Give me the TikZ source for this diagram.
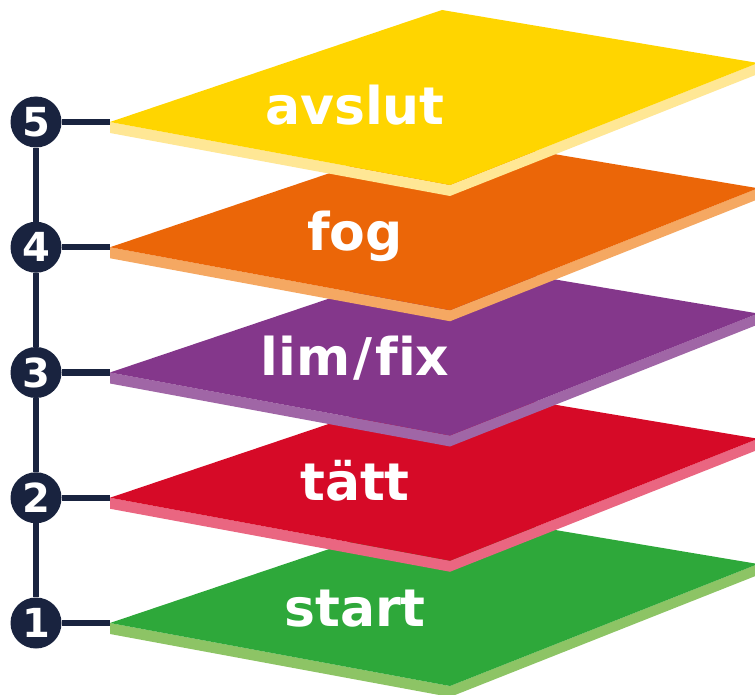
\documentclass[tikz,border=0pt]{standalone}
\usepackage{fontspec}
\setmainfont{DejaVu Sans}
\usetikzlibrary{positioning,calc}
\definecolor{navy}{HTML}{19233F}
\definecolor{yellowtop}{HTML}{FFD500}
\definecolor{yellowside}{HTML}{FFE795}
\definecolor{orangetop}{HTML}{EB6608}
\definecolor{orangeside}{HTML}{F5A862}
\definecolor{purpletop}{HTML}{84378B}
\definecolor{purpleside}{HTML}{A066A6}
\definecolor{redtop}{HTML}{D60A27}
\definecolor{redside}{HTML}{EA6681}
\definecolor{greentop}{HTML}{2EA83A}
\definecolor{greenside}{HTML}{8DC465}
\tikzstyle{stepnum} = [circle, fill=navy, text=white, inner sep=0pt,
minimum size=51pt, font=\bfseries\fontsize{40}{40}\selectfont]
\tikzstyle{link} = [draw=navy, line width=6.5pt]
\tikzstyle{platetext} = [text=white, anchor=base, inner sep=0pt,
font=\bfseries\fontsize{52}{52}\selectfont]

\begin{document}
\begin{tikzpicture}[x=1pt, y=-1pt]
	\useasboundingbox (0,0) rectangle (755,695);
	\clip (0,0) rectangle (755,695);
	
	\node [stepnum] (n1) at (36,623) {1};
	\node [stepnum] (n2) at (36,497.75) {2};
	\node [stepnum] (n3) at (36,372.5) {3};
	\node [stepnum] (n4) at (36,247.25) {4};
	\node [stepnum] (n5) at (36,122) {5};
	
	\draw [link] (n1) -- (n2);
	\draw [link] (n2) -- (n3);
	\draw [link] (n3) -- (n4);
	\draw [link] (n4) -- (n5);
	
	\foreach \k/\top/\side/\txt in {1/greentop/greenside/start, 2/redtop/redside/tätt,
		3/purpletop/purpleside/{lim\kern3pt/\kern3pt f\kern0pt ix}, 4/orangetop/orangeside/fog, 5/yellowtop/yellowside/avslut} {
		\coordinate (L\k) at (110,{623-125.25*(\k-1)});
		\draw [link] (n\k) -- (L\k);
		\fill [\side] (L\k) -- ++(340,63) -- ++(308,-122) -- ++(0,11) -- ++(-308,122) -- ++(-340,-63) -- cycle;
		\fill [\top] (L\k) -- ++(332,-112) -- ++(316,53) -- ++(-308,122) -- cycle;
		\node [platetext] (t\k) at ($(L\k)+(245,3)$) {\txt};
	}
	
\end{tikzpicture}
\end{document}
